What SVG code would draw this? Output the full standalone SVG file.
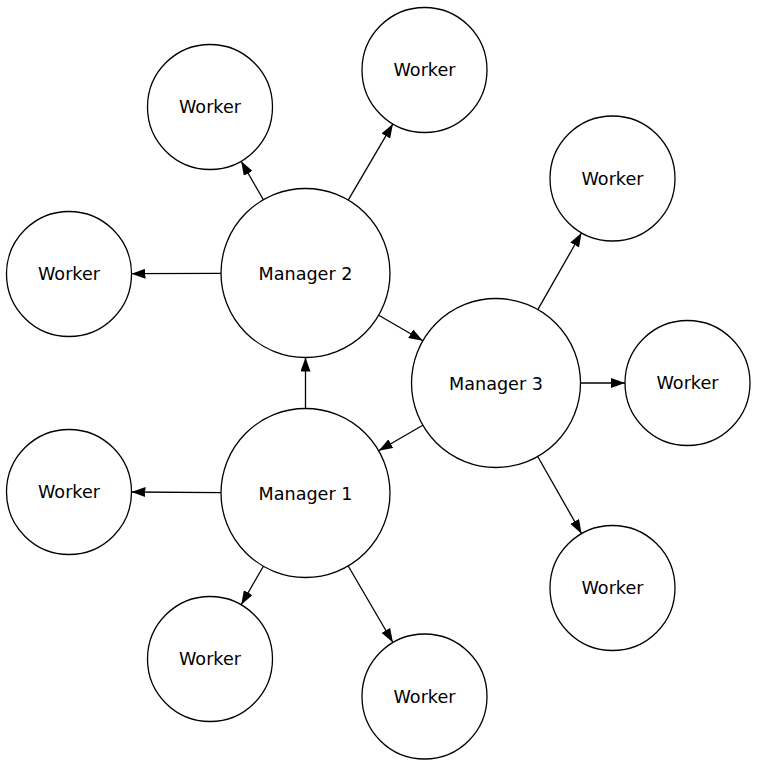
<svg xmlns="http://www.w3.org/2000/svg" width="758" height="767" viewBox="0 0 758 767">
<style>
.n circle{fill:#fff;stroke:#000;stroke-width:1.3}
.n text{font-family:"DejaVu Sans",sans-serif;font-size:17.6px;text-anchor:middle;fill:#000}
#edges line{stroke:#000;stroke-width:1.3;marker-end:url(#ah)}
</style>
<defs>
<marker id="ah" markerUnits="userSpaceOnUse" markerWidth="14" markerHeight="10" refX="14" refY="5" orient="auto" viewBox="0 0 14 10">
<path d="M0,0 L14,5 L0,10 z" fill="#000"/>
</marker>
</defs>
<rect width="758" height="767" fill="#fff"/>
<g id="edges">
<line x1="263.4" y1="199.8" x2="241.2" y2="161.2"/>
<line x1="348.2" y1="200.1" x2="392.9" y2="123.9"/>
<line x1="221" y1="273.4" x2="131.5" y2="273.7"/>
<line x1="305.5" y1="408.5" x2="305.5" y2="357.5"/>
<line x1="378.7" y1="315.3" x2="422.8" y2="340.7"/>
<line x1="422.8" y1="425.3" x2="378.7" y2="450.7"/>
<line x1="537.8" y1="309.6" x2="581.6" y2="232.8"/>
<line x1="580.5" y1="383" x2="625" y2="383"/>
<line x1="537.7" y1="456.5" x2="581.6" y2="533.7"/>
<line x1="221" y1="492.6" x2="131.5" y2="492"/>
<line x1="263.4" y1="566.2" x2="241.2" y2="604.8"/>
<line x1="348.2" y1="566" x2="392.9" y2="642.5"/>
</g>
<g id="manager2" class="n"><circle cx="305.5" cy="273" r="84.5"/><text x="305.5" y="279.5">Manager 2</text></g>
<g id="manager1" class="n"><circle cx="305.5" cy="493" r="84.5"/><text x="305.5" y="499.5">Manager 1</text></g>
<g id="manager3" class="n"><circle cx="496" cy="383" r="84.5"/><text x="496" y="389.5">Manager 3</text></g>
<g id="worker1" class="n"><circle cx="210" cy="107" r="62.5"/><text x="210" y="113">Worker</text></g>
<g id="worker2" class="n"><circle cx="424.5" cy="70" r="62.5"/><text x="424.5" y="76">Worker</text></g>
<g id="worker3" class="n"><circle cx="69" cy="274" r="62.5"/><text x="69" y="280">Worker</text></g>
<g id="worker4" class="n"><circle cx="612.5" cy="178.5" r="62.5"/><text x="612.5" y="184.5">Worker</text></g>
<g id="worker5" class="n"><circle cx="687.5" cy="383" r="62.5"/><text x="687.5" y="389">Worker</text></g>
<g id="worker6" class="n"><circle cx="612.5" cy="588" r="62.5"/><text x="612.5" y="594">Worker</text></g>
<g id="worker7" class="n"><circle cx="69" cy="492" r="62.5"/><text x="69" y="498">Worker</text></g>
<g id="worker8" class="n"><circle cx="210" cy="659" r="62.5"/><text x="210" y="665">Worker</text></g>
<g id="worker9" class="n"><circle cx="424.5" cy="696.5" r="62.5"/><text x="424.5" y="702.5">Worker</text></g>
</svg>
